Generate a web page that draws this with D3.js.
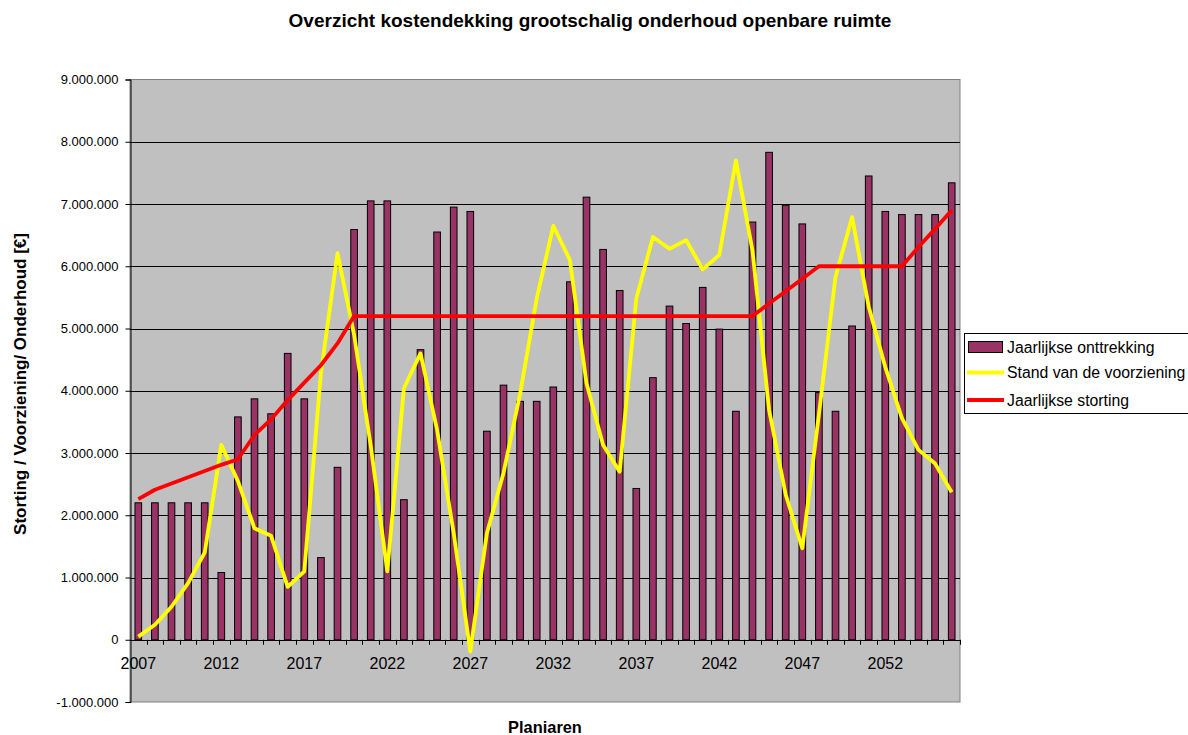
<!DOCTYPE html>
<html><head><meta charset="utf-8">
<script src="https://cdn.jsdelivr.net/npm/d3@7"></script>
<style>body{margin:0;background:#fff} text{font-family:Arial,"Liberation Sans",sans-serif;fill:#000}</style>
</head><body><svg id="c" width="1188" height="735"></svg>
<script>
const years = [2007,2008,2009,2010,2011,2012,2013,2014,2015,2016,2017,2018,2019,2020,2021,2022,2023,2024,2025,2026,2027,2028,2029,2030,2031,2032,2033,2034,2035,2036,2037,2038,2039,2040,2041,2042,2043,2044,2045,2046,2047,2048,2049,2050,2051,2052,2053,2054,2055,2056];
const xLabelYears = [2007,2012,2017,2022,2027,2032,2037,2042,2047,2052];
// values in millions of euro
const onttrekking = [2.2,2.2,2.2,2.2,2.2,1.08,3.58,3.87,3.63,4.6,3.87,1.32,2.77,6.59,7.05,7.05,2.25,4.66,6.55,6.95,6.88,3.35,4.09,3.83,3.83,4.06,5.75,7.11,6.27,5.61,2.43,4.21,5.36,5.08,5.66,4.99,3.67,6.71,7.83,6.98,6.68,3.97,3.67,5.04,7.45,6.88,6.83,6.83,6.83,7.34];
const stand = [0.05,0.24,0.53,0.91,1.40,3.13,2.55,1.79,1.67,0.85,1.10,4.28,6.21,4.9,3.12,1.10,4.04,4.60,3.37,1.71,-0.19,1.71,2.68,3.95,5.48,6.65,6.10,4.12,3.13,2.70,5.48,6.47,6.28,6.42,5.95,6.18,7.70,6.25,3.69,2.33,1.47,3.62,5.83,6.79,5.35,4.38,3.56,3.05,2.83,2.37];
const storting = [2.26,2.41,2.51,2.61,2.71,2.81,2.90,3.29,3.54,3.85,4.13,4.41,4.76,5.2,5.2,5.2,5.2,5.2,5.2,5.2,5.2,5.2,5.2,5.2,5.2,5.2,5.2,5.2,5.2,5.2,5.2,5.2,5.2,5.2,5.2,5.2,5.2,5.2,5.4,5.6,5.8,6.0,6.0,6.0,6.0,6.0,6.0,6.31,6.60,6.90];
const yTicks = [-1000000,0,1000000,2000000,3000000,4000000,5000000,6000000,7000000,8000000,9000000];
const seriesNames = ["Jaarlijkse onttrekking","Stand van de voorziening","Jaarlijkse storting"];
const title = "Overzicht kostendekking grootschalig onderhoud openbare ruimte";
const yTitle = "Storting / Voorziening/ Onderhoud [€]";
const xTitle = "Planiaren";

const svg = d3.select("#c");
const L=130, R=960, T=79.5, B=702;
const x = d3.scaleBand().domain(years).range([L,R]).paddingInner(0.6).paddingOuter(0.3);
const xc = d => x(d) + x.bandwidth()/2;
const y = d3.scaleLinear().domain([-1000000,9000000]).range([B,T]);
const loc = d3.formatLocale({decimal:",",thousands:".",grouping:[3],currency:["€",""],minus:"-"});
const fmt = loc.format(",.0f");

// plot background
svg.append("rect").attr("x",L).attr("y",T).attr("width",R-L).attr("height",B-T).attr("fill","#C0C0C0").attr("stroke","#808080").attr("stroke-width",1);
// gridlines
svg.append("g").selectAll("line").data(yTicks.filter(v=>v>-1000000 && v<9000000)).join("line")
  .attr("x1",L).attr("x2",R).attr("y1",d=>Math.round(y(d))+0.5).attr("y2",d=>Math.round(y(d))+0.5)
  .attr("stroke","#000").attr("stroke-width",1);

// bars
svg.append("g").selectAll("rect").data(years).join("rect")
  .attr("x",d=>x(d)).attr("width",x.bandwidth())
  .attr("y",(d,i)=>y(onttrekking[i]*1e6)).attr("height",(d,i)=>y(0)-y(onttrekking[i]*1e6))
  .attr("fill","#993366").attr("stroke","#000").attr("stroke-width",1);

// y axis
const yAxis = d3.axisLeft(y).tickValues(yTicks).tickSize(5).tickFormat(fmt);
const ga = svg.append("g").attr("transform",`translate(${L+0.5},0)`).call(yAxis);
ga.select(".domain").attr("stroke","#000");
ga.selectAll(".tick text").attr("font-size",13).attr("x",-12).style("font-family","Arial, 'Liberation Sans', sans-serif");

// x axis at zero
const step = x.step();
const xb = svg.append("g");
xb.append("line").attr("x1",L).attr("x2",R).attr("y1",Math.round(y(0))+0.5).attr("y2",Math.round(y(0))+0.5).attr("stroke","#000");
xb.selectAll("line.t").data(years).join("line").attr("class","t")
  .attr("x1",d=>Math.round(x(d)-x.paddingOuter()*step+step)+0.5).attr("x2",d=>Math.round(x(d)-x.paddingOuter()*step+step)+0.5)
  .attr("y1",y(0)).attr("y2",y(0)+5).attr("stroke","#000");
xb.selectAll("text").data(xLabelYears).join("text")
  .attr("x",d=>xc(d)).attr("y",y(0)+29).attr("text-anchor","middle").attr("font-size",16).text(d=>d);

// lines
const line = d3.line().x((d,i)=>xc(years[i])).y(d=>y(d*1e6));
svg.append("path").datum(stand).attr("d",line).attr("fill","none").attr("stroke","#FFFF00").attr("stroke-width",3.8).attr("stroke-linejoin","round");
svg.append("path").datum(storting).attr("d",line).attr("fill","none").attr("stroke","#FF0000").attr("stroke-width",3.8).attr("stroke-linejoin","round");

// titles
svg.append("text").attr("x",590).attr("y",27).attr("text-anchor","middle").attr("font-size",19).attr("font-weight","bold").text(title);
svg.append("text").attr("transform",`translate(26,384) rotate(-90)`).attr("text-anchor","middle").attr("font-size",17).attr("font-weight","bold").text(yTitle);
svg.append("text").attr("x",(L+R)/2).attr("y",733).attr("text-anchor","middle").attr("font-size",16.4).attr("font-weight","bold").text(xTitle);

// legend
const lg = svg.append("g");
lg.append("rect").attr("x",964.5).attr("y",333.5).attr("width",224).attr("height",80).attr("fill","#fff").attr("stroke","#000");
lg.append("rect").attr("x",968.5).attr("y",341.5).attr("width",34).attr("height",11).attr("fill","#993366").attr("stroke","#000");
lg.append("line").attr("x1",967).attr("x2",1004).attr("y1",372.5).attr("y2",372.5).attr("stroke","#FFFF00").attr("stroke-width",3.8);
lg.append("line").attr("x1",967).attr("x2",1004).attr("y1",400).attr("y2",400).attr("stroke","#FF0000").attr("stroke-width",3.8);
lg.selectAll("text").data(seriesNames).join("text").attr("x",1007).attr("y",(d,i)=>[352.5,377.5,405.5][i]).attr("font-size",15.8).text(d=>d);
</script></body></html>
